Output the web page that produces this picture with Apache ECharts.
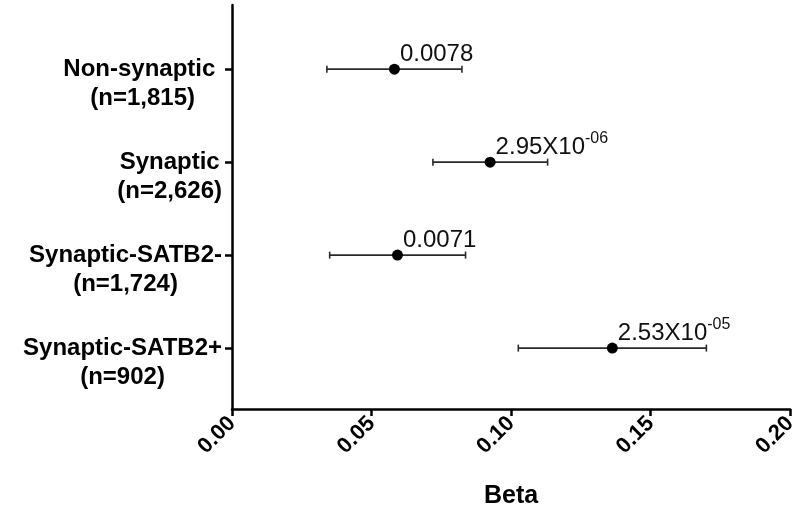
<!DOCTYPE html>
<html><head><meta charset="utf-8">
<script src="https://cdn.jsdelivr.net/npm/echarts@6/dist/echarts.min.js"></script>
<style>html,body{margin:0;padding:0;background:#fff}#c{width:800px;height:518px}</style>
</head><body><div id="c"></div>
<script>
const categories = ['Non-synaptic ', 'Synaptic', 'Synaptic-SATB2-', 'Synaptic-SATB2+'];
const sampleSizes = ['(n=1,815)', '(n=2,626)', '(n=1,724)', '(n=902)'];
const positions = [1, 2, 3, 4];
const beta = [0.0582, 0.0925, 0.0593, 0.1363];
const ciLow = [0.0340, 0.0720, 0.0350, 0.1026];
const ciHigh = [0.0824, 0.1131, 0.0837, 0.1700];
const pMain = ['0.0078', '2.95X10', '0.0071', '2.53X10'];
const pSup = ['', '-06', '', '-05'];
const xTicks = [0, 0.05, 0.10, 0.15, 0.20];

const FONT = '"Liberation Sans", Arial, sans-serif';
const labelShift = 0.156;

const chart = echarts.init(document.getElementById('c'));
chart.setOption({
  backgroundColor: '#fff',
  animation: false,
  grid: { left: 232, right: 8, top: 5, bottom: 109, containLabel: false },
  xAxis: {
    type: 'value', min: xTicks[0], max: xTicks[xTicks.length - 1], interval: 0.05,
    name: 'Beta', nameLocation: 'middle', nameGap: 75,
    nameTextStyle: { fontFamily: FONT, fontWeight: 'bold', fontSize: 25, color: '#000' },
    axisLine: { show: true, lineStyle: { color: '#000', width: 2.5 } },
    axisTick: { show: true, length: 7, lineStyle: { color: '#000', width: 2.5 } },
    axisLabel: { rotate: 45, margin: 11, fontFamily: FONT, fontWeight: 'bold', fontSize: 22, color: '#000',
      formatter: v => v.toFixed(2) },
    splitLine: { show: false }
  },
  yAxis: {
    type: 'value', inverse: true, min: 0.31, max: 4.655,
    axisLine: { show: true, lineStyle: { color: '#000', width: 2.5 } },
    axisTick: { show: true, length: 7, customValues: positions, lineStyle: { color: '#000', width: 2.5 } },
    axisLabel: {
      margin: 10, customValues: positions.map(p => p + labelShift),
      formatter: v => {
        const i = Math.round(v - labelShift) - 1;
        return '{a|' + categories[i] + '}\n{a|' + sampleSizes[i] + '}';
      },
      rich: { a: { align: 'center', fontFamily: FONT, fontWeight: 'bold', fontSize: 24, lineHeight: 29, color: '#000' } }
    },
    splitLine: { show: false }
  },
  series: [
    {
      type: 'custom',
      data: positions.map((p, i) => [ciLow[i], ciHigh[i], p]),
      encode: { x: [0, 1], y: 2 },
      renderItem: (params, api) => {
        const a = api.coord([api.value(0), api.value(2)]);
        const b = api.coord([api.value(1), api.value(2)]);
        const st = { stroke: '#2a2a2a', lineWidth: 1.6 };
        return { type: 'group', children: [
          { type: 'line', shape: { x1: a[0], y1: a[1], x2: b[0], y2: b[1] }, style: st },
          { type: 'line', shape: { x1: a[0], y1: a[1] - 3.5, x2: a[0], y2: a[1] + 3.5 }, style: st },
          { type: 'line', shape: { x1: b[0], y1: b[1] - 3.5, x2: b[0], y2: b[1] + 3.5 }, style: st }
        ]};
      },
      z: 2
    },
    {
      type: 'scatter',
      symbol: 'circle', symbolSize: 11,
      itemStyle: { color: '#000', opacity: 1 },
      data: positions.map((p, i) => [beta[i], p]),
      label: {
        show: true, position: 'right', distance: 0, offset: [0, -15],
        formatter: params => {
          const i = params.dataIndex;
          return '{m|' + pMain[i] + '}' + (pSup[i] ? '{s|' + pSup[i] + '}' : '');
        },
        rich: {
          m: { fontFamily: FONT, fontSize: 24, color: '#111', lineHeight: 34 },
          s: { fontFamily: FONT, fontSize: 16, color: '#111', lineHeight: 16, verticalAlign: 'top' }
        }
      },
      z: 3
    }
  ]
});
</script></body></html>
